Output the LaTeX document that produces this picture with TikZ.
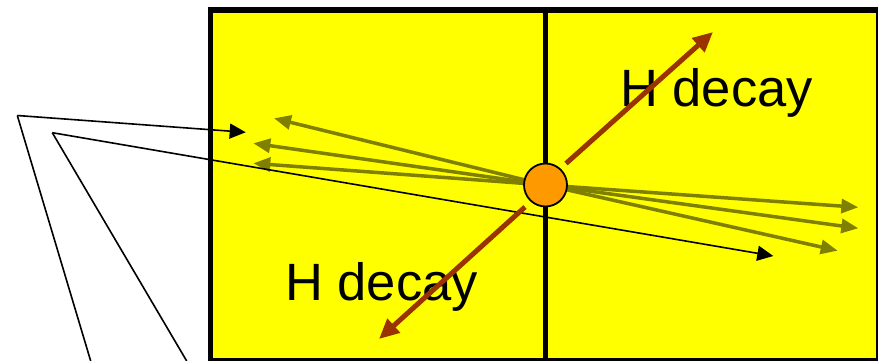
\documentclass[tikz,border=0pt]{standalone}
\usepackage{fontspec}
\setmainfont{Liberation Sans}
\usetikzlibrary{arrows.meta}
\definecolor{boxyellow}{HTML}{FFFF00}
\definecolor{trackolive}{HTML}{808000}
\definecolor{decaybrown}{HTML}{993300}
\definecolor{vtxorange}{HTML}{FF9900}
\tikzset{
  frame/.style={line width=5.5pt, draw=black},
  olivetrack/.style={draw=trackolive, line width=3.5pt, -{Triangle[length=17pt,width=14pt]}},
  decaytrack/.style={draw=decaybrown, line width=5pt, -{Triangle[length=20pt,width=18pt]}},
  thinline/.style={draw=black, line width=1.6pt},
  thinarrow/.style={thinline, -{Triangle[length=16pt,width=15pt]}},
  label/.style={font=\fontsize{52.5pt}{60pt}\selectfont, inner sep=0pt, anchor=base west},
  vertex/.style={circle, draw=black, line width=1.8pt, fill=vtxorange, minimum size=43pt, inner sep=0pt}
}
\begin{document}
\begin{tikzpicture}[x=1pt,y=-1pt]
\useasboundingbox (0,0) rectangle (878,361);
\clip (0,0) rectangle (878,361);
% detector box
\fill[boxyellow] (210.5,10) rectangle (878.5,360.5);
\draw[frame] (210.5,10) rectangle (878.5,360.5);
\coordinate (mtop) at (545.5,10);
\coordinate (mbot) at (545.5,361);
\draw[frame] (mtop) -- (mbot);
% labels
\node[label] (hup) at (620,106.7) {H decay};
\node[label] (hlow) at (285,300) {H decay};
% vertex position
\coordinate (v) at (545.5,185);
% olive tracks
\coordinate (l1) at (274,118.3);
\coordinate (l2) at (253.3,143.3);
\coordinate (l3) at (253.3,163.3);
\coordinate (r1) at (858.3,207.3);
\coordinate (r2) at (858.3,228.3);
\coordinate (r3) at (837.7,250.7);
\foreach \t in {l1,l2,l3,r1,r2,r3}{\draw[olivetrack] (v) -- (\t);}
% thin black lines
\coordinate (p1) at (17.3,115.5);
\coordinate (q1) at (245.7,132.3);
\coordinate (b1) at (90.7,361);
\coordinate (p2) at (52.3,132.7);
\coordinate (q2) at (773.3,256);
\coordinate (b2) at (186.7,361);
\draw[thinline] (b1) -- (p1);
\draw[thinarrow] (p1) -- (q1);
\draw[thinline] (b2) -- (p2);
\draw[thinarrow] (p2) -- (q2);
% decay tracks
\coordinate (du0) at (566,163.5);
\coordinate (du) at (713,32);
\coordinate (dl0) at (525,207);
\coordinate (dl) at (379,339);
\draw[decaytrack] (du0) -- (du);
\draw[decaytrack] (dl0) -- (dl);
% vertex
\node[vertex] (vtx) at (v) {};
\end{tikzpicture}
\end{document}
